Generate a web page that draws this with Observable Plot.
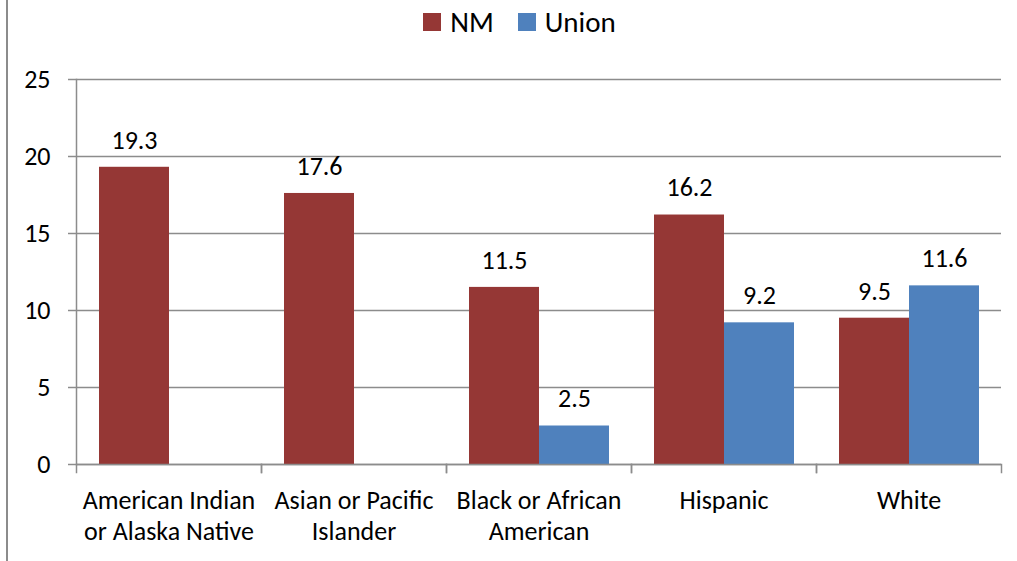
<!DOCTYPE html>
<html><head><meta charset="utf-8">
<script src="https://cdn.jsdelivr.net/npm/d3@7"></script>
<script src="https://cdn.jsdelivr.net/npm/@observablehq/plot@0.6"></script>
<style>
body{margin:0;background:#fff;font-family:Carlito,Calibri,Lato,sans-serif;}
#wrap{position:relative;width:1017px;height:561px;overflow:hidden;background:#fff}
#border{position:absolute;left:6px;top:0;width:2px;height:561px;background:#8c8c8c}
#legend{position:absolute;top:0;left:0;width:1017px;height:44px;display:flex;justify-content:center;align-items:center;padding-left:22px;box-sizing:border-box;font-size:29px;color:#000}
#legend .item{display:flex;align-items:center;margin:0 12px}
#legend .sw{width:18px;height:18px;margin-right:9px}
#chart{position:absolute;top:44px;left:0}
</style>
</head><body>
<div id="wrap"><div id="border"></div><div id="legend"></div><div id="chart"></div></div>
<script>
const categories = ["American Indian or Alaska Native","Asian or Pacific Islander","Black or African American","Hispanic","White"];
const categoryLabels = ["American Indian\nor Alaska Native","Asian or Pacific\nIslander","Black or African\nAmerican","Hispanic","White"];
const series = ["NM","Union"];
const nmValues = [19.3, 17.6, 11.5, 16.2, 9.5];
const unionValues = [null, null, 2.5, 9.2, 11.6];
const colors = ["#953735","#4F81BD"];
const yTicks = [0,5,10,15,20,25];

const seriesValues = [nmValues, unionValues];
const table = categories.flatMap((c,i)=>series.map((s,j)=>({category:c, series:s, value:seriesValues[j][i]}))).filter(d=>d.value!=null);
const labelOf = new Map(categories.map((c,i)=>[c,categoryLabels[i]]));

const legend = document.getElementById("legend");
series.forEach((s,i)=>{
  const it = document.createElement("div"); it.className="item";
  const sw = document.createElement("div"); sw.className="sw"; sw.style.background=colors[i];
  const tx = document.createElement("span"); tx.textContent=s;
  it.appendChild(sw); it.appendChild(tx); legend.appendChild(it);
});

const font = "Carlito, Calibri, Lato, sans-serif";
const grey = "#8c8c8c";
const chart = Plot.plot({
  width:1017, height:517, marginTop:35, marginBottom:97, marginLeft:76, marginRight:16,
  style:{fontFamily:font, fontSize:"26px", color:"#000", background:"transparent"},
  fx:{domain:categories, padding:0, label:null},
  x:{domain:series, paddingInner:0, paddingOuter:0.32, axis:null},
  y:{domain:[0,25], label:null},
  color:{domain:series, range:colors},
  marks:[
    Plot.gridY(yTicks,{stroke:grey, strokeOpacity:1, strokeWidth:1.5}),
    Plot.axisY(yTicks,{tickSize:8, tickPadding:18, stroke:grey, strokeWidth:1.5, fontSize:26, label:null}),
    Plot.frame({anchor:"left", facetAnchor:"left", stroke:grey, strokeWidth:1.5}),
    Plot.frame({anchor:"left", insetTop:385, insetBottom:-8, stroke:grey, strokeWidth:1.5}),
    Plot.frame({anchor:"right", insetTop:385, insetBottom:-8, stroke:grey, strokeWidth:1.5}),
    Plot.barY(table,{fx:"category", x:"series", y:"value", fill:"series"}),
    Plot.text(table,{fx:"category", x:"series", y:"value", text:d=>d.value.toFixed(1), dy:-27, fontSize:26, fill:"#000"}),
    Plot.axisFx({anchor:"bottom", tickSize:0, tickPadding:23, fontSize:26, lineHeight:1.17, tickFormat:d=>labelOf.get(d), label:null}),
    Plot.ruleY([0],{stroke:grey, strokeWidth:1.5})
  ]
});
document.getElementById("chart").appendChild(chart);
</script>
</body></html>
